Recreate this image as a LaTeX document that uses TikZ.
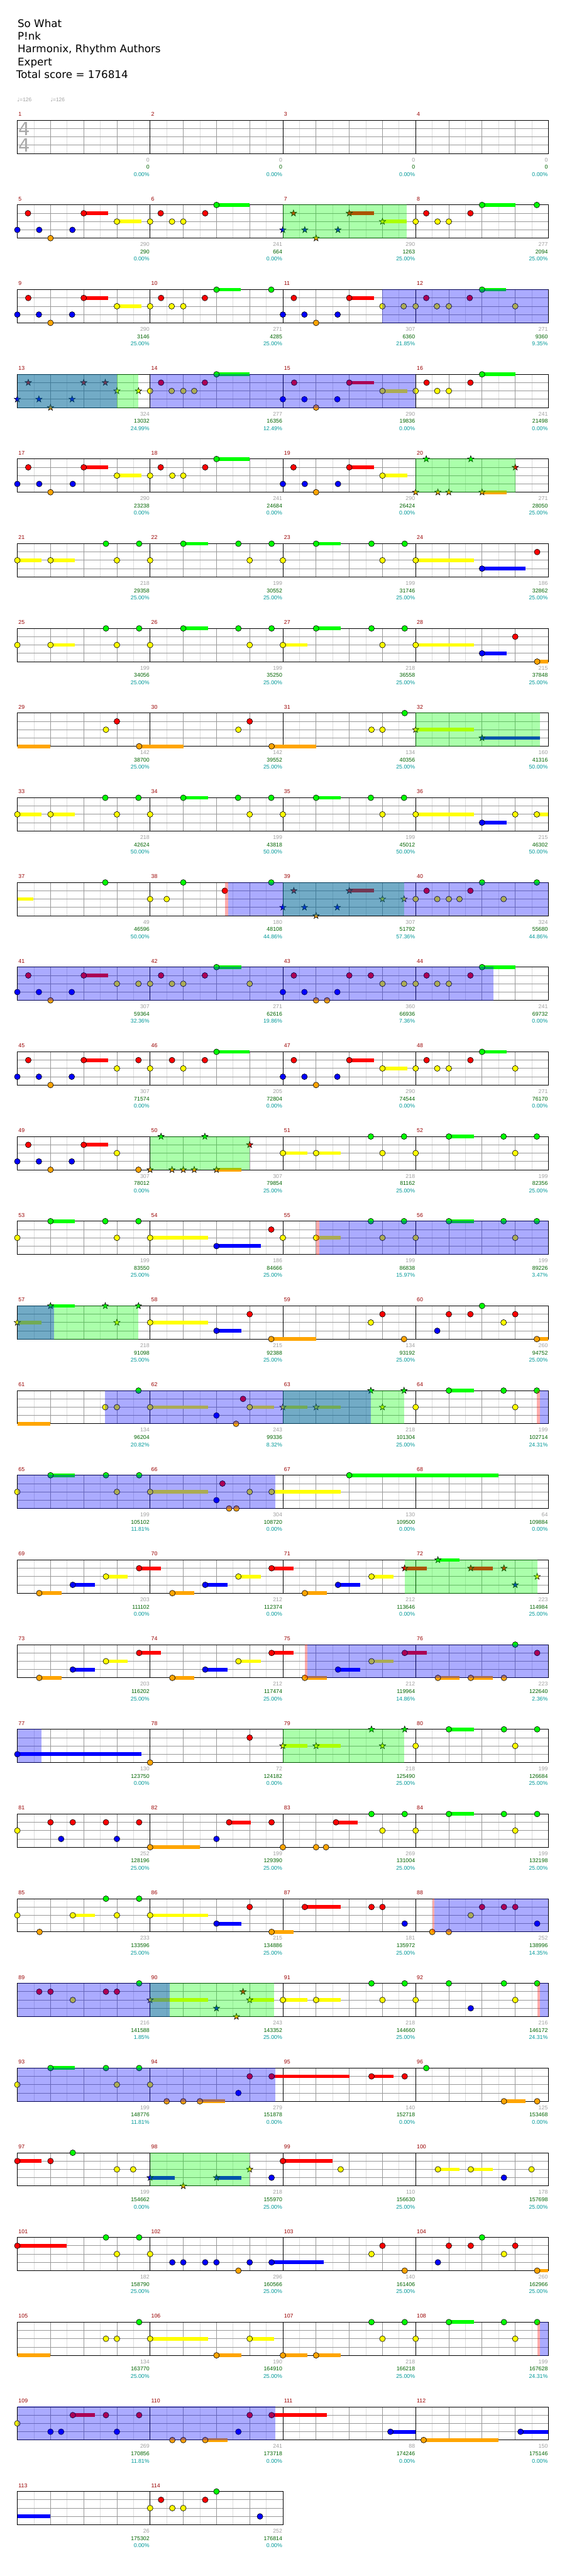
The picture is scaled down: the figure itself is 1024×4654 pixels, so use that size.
\documentclass[tikz,border=0pt]{standalone}
\usepackage{fontspec}
\setmainfont{Liberation Sans}
\newfontfamily\dejavu{DejaVu Sans}
\definecolor{ln0}{RGB}{0,255,0}\definecolor{ln1}{RGB}{255,0,0}\definecolor{ln2}{RGB}{255,255,0}\definecolor{ln3}{RGB}{0,0,255}\definecolor{ln4}{RGB}{255,165,0}
\definecolor{numred}{RGB}{153,0,0}\definecolor{ptgray}{RGB}{160,160,160}\definecolor{totgreen}{RGB}{0,100,0}\definecolor{pctcyan}{RGB}{0,153,153}
\definecolor{halfln}{RGB}{221,221,221}\definecolor{beatln}{RGB}{153,153,153}\definecolor{sigray}{RGB}{170,170,170}
\tikzset{half/.style={halfln,line width=1pt},beat/.style={beatln,line width=1pt},bar/.style={black,line width=1pt},gem/.style={draw=black,line width=.7pt},
mnum/.style={anchor=west,inner sep=0pt,text=numred,font=\fontsize{10}{12}\selectfont},pts/.style={anchor=east,inner sep=0pt,text=ptgray,font=\fontsize{10}{12}\selectfont},
tot/.style={pts,text=totgreen},pct/.style={pts,text=pctcyan},head/.style={anchor=base west,inner sep=0pt,font=\dejavu\fontsize{19}{23}\selectfont},
tempo/.style={anchor=base west,inner sep=0pt,text=ptgray,font=\fontsize{9.5}{11}\selectfont},sig/.style={inner sep=0pt,text=sigray,font=\dejavu\fontsize{33}{33}\selectfont},
rowsh/.style={shift={(31.3,{64.3+153*#1})}}}
\newcommand\gem[2]{\draw[gem,fill=ln#2] ({60*#1},{15*#2}) circle[radius=5.2pt];}
\newcommand\hold[3]{\fill[ln#3] ({60*#1},{15*#3-3.3}) rectangle ({60*#2},{15*#3+3.3});}
\newcommand\gemh[3]{\hold{#1}{#2}{#3}\gem{#1}{#3}}
\newcommand\spgem[2]{\draw[gem,fill=ln#2] ({60*#1},{15*#2}) +(-90:6) -- +(-54:2.4) -- +(-18:6) -- +(18:2.4) -- +(54:6) -- +(90:2.4) -- +(126:6) -- +(162:2.4) -- +(198:6) -- +(234:2.4) -- cycle;}
\newcommand\spgemh[3]{\hold{#1}{#2}{#3}\spgem{#1}{#3}}
\newcommand\odrive[2]{\fill[blue,fill opacity=.33] ({60*#1},-.6) rectangle ({60*#2},60.6);}
\newcommand\sphrase[2]{\fill[ln0,fill opacity=.33] ({60*#1},-.6) rectangle ({60*#2},60.6);}
\newcommand\actv[2]{\fill[red,fill opacity=.33] ({60*#1},-.6) rectangle ({60*#2},60.6);}
\newcommand\staff[1]{\foreach \i in {1,...,#1}{\draw[half] ({60*\i-30},0) -- ++(0,60);}\foreach \j in {15,30,45}{\draw[beat] (0,\j) -- ({60*#1},\j);}
\foreach \i in {1,...,#1}{\draw[beat] ({60*\i},0) -- ++(0,60);}\foreach \i in {0,4,...,#1}{\draw[bar] ({60*\i},0) -- ++(0,60);}\draw[bar] (0,0) rectangle ({60*#1},60);}
\newcommand\mlab[5]{\node[mnum] (num#2) at ({240*#1+2},-11) {#2};\node[pts] (pts#2) at ({240*#1+239},71.4) {#3};\node[tot] (tot#2) at ({240*#1+239},84.7) {#4};\node[pct] (pct#2) at ({240*#1+239},97.7) {#5\%};}
\begin{document}
\begin{tikzpicture}[x=1pt,y=-1pt]
\useasboundingbox[fill=white] (0,0) rectangle (1024,4654);
\node[head] (title) at (31.7,49.3) {So What};\node[head] (artist) at (31.7,72.3) {P!nk};\node[head] (charter) at (31.7,95.3) {Harmonix, Rhythm Authors};
\node[head] (diff) at (31.7,118.3) {Expert};\node[head] (total) at (29.3,141.3) {Total score = 176814};
\node[tempo] (bpma) at (31,184) {{\dejavu ♩}=126};\node[tempo] (bpmb) at (91,184) {{\dejavu ♩}=126};
\begin{scope}[rowsh=1]\staff{16}
\mlab{0}{1}{0}{0}{0.00}\mlab{1}{2}{0}{0}{0.00}\mlab{2}{3}{0}{0}{0.00}\mlab{3}{4}{0}{0}{0.00}
\node[sig] (sigtop) at (12.4,15.7) {4};\node[sig] (sigbot) at (12.4,44.7) {4};
\end{scope}
\begin{scope}[rowsh=2]\staff{16}
\mlab{0}{5}{290}{290}{0.00}\mlab{1}{6}{241}{664}{0.00}\mlab{2}{7}{290}{1263}{25.00}\mlab{3}{8}{277}{2094}{25.00}
\gem{0}{3}\gem{0.32}{1}\gem{0.66}{3}\gem{1}{4}\gem{1.66}{3}\gemh{2}{2.74}{1}\gemh{3}{3.74}{2}\gem{4}{2}\gem{4.32}{1}\gem{4.66}{2}\gem{5}{2}\gem{5.66}{1}\gemh{6}{7}{0}
\spgem{8}{3}\spgem{8.32}{1}\spgem{8.66}{3}\spgem{9}{4}\spgem{9.66}{3}\spgemh{10}{10.74}{1}\spgemh{11}{11.73}{2}
\gem{12}{2}\gem{12.32}{1}\gem{12.66}{2}\gem{13}{2}\gem{13.65}{1}\gemh{14}{15}{0}\gem{15.65}{0}
\sphrase{8}{11.73}
\end{scope}
\begin{scope}[rowsh=3]\staff{16}
\mlab{0}{9}{290}{3146}{25.00}\mlab{1}{10}{271}{4285}{25.00}\mlab{2}{11}{307}{6360}{21.85}\mlab{3}{12}{271}{9360}{9.35}
\gem{0}{3}\gem{0.33}{1}\gem{0.65}{3}\gem{1}{4}\gem{1.65}{3}\gemh{2}{2.74}{1}\gemh{3}{3.74}{2}\gem{4}{2}\gem{4.33}{1}\gem{4.65}{2}\gem{5}{2}\gem{5.65}{1}\gemh{6}{6.74}{0}\gem{7.65}{0}\gem{8}{3}
\gem{8.33}{1}\gem{8.65}{3}\gem{9}{4}\gem{9.65}{3}\gemh{10}{10.74}{1}\gem{11}{2}\gem{11.64}{2}\gem{12}{2}\gem{12.32}{1}\gem{12.64}{2}\gem{13}{2}\gem{13.63}{1}\gemh{14}{14.73}{0}\gem{15}{2}
\odrive{11}{16}
\end{scope}
\begin{scope}[rowsh=4]\staff{16}
\mlab{0}{13}{324}{13032}{24.99}\mlab{1}{14}{277}{16356}{12.49}\mlab{2}{15}{290}{19836}{0.00}\mlab{3}{16}{241}{21498}{0.00}
\spgem{0}{3}\spgem{0.33}{1}\spgem{0.65}{3}\spgem{1}{4}\spgem{1.65}{3}\spgem{2}{1}\spgem{2.65}{1}\spgem{3}{2}\spgem{3.65}{2}
\gem{4}{2}\gem{4.33}{1}\gem{4.65}{2}\gem{5}{2}\gem{5.33}{2}\gem{5.65}{1}\gemh{6}{7}{0}\gem{8}{3}\gem{8.34}{1}\gem{8.65}{3}\gem{9}{4}\gem{9.64}{3}\gemh{10}{10.74}{1}\gemh{11}{11.74}{2}
\gem{12}{2}\gem{12.33}{1}\gem{12.65}{2}\gem{13}{2}\gem{13.65}{1}\gemh{14}{15}{0}
\sphrase{0}{3.65}\odrive{0}{3}\odrive{4}{12}
\end{scope}
\begin{scope}[rowsh=5]\staff{16}
\mlab{0}{17}{290}{23238}{0.00}\mlab{1}{18}{241}{24684}{0.00}\mlab{2}{19}{290}{26424}{0.00}\mlab{3}{20}{271}{28050}{25.00}
\gem{0}{3}\gem{0.33}{1}\gem{0.66}{3}\gem{1}{4}\gem{1.67}{3}\gemh{2}{2.74}{1}\gemh{3}{3.73}{2}\gem{4}{2}\gem{4.32}{1}\gem{4.67}{2}\gem{5}{2}\gem{5.66}{1}\gemh{6}{7}{0}
\gem{8}{3}\gem{8.32}{1}\gem{8.66}{3}\gem{9}{4}\gem{9.66}{3}\gemh{10}{10.74}{1}\gemh{11}{11.74}{2}
\spgem{12}{4}\spgem{12.32}{0}\spgem{12.67}{4}\spgem{13}{4}\spgem{13.66}{0}\spgemh{14}{14.75}{4}\spgem{15}{1}
\sphrase{12}{15}
\end{scope}
\begin{scope}[rowsh=6]\staff{16}
\mlab{0}{21}{218}{29358}{25.00}\mlab{1}{22}{199}{30552}{25.00}\mlab{2}{23}{199}{31746}{25.00}\mlab{3}{24}{186}{32862}{25.00}
\gemh{0}{0.73}{2}\gemh{1}{1.73}{2}\gem{2.67}{0}\gem{3}{2}\gem{3.67}{0}\gem{4}{2}\gemh{5}{5.75}{0}\gem{6.66}{0}\gem{7}{2}\gem{7.66}{0}\gem{8}{2}\gemh{9}{9.74}{0}\gem{10.67}{0}\gem{11}{2}\gem{11.67}{0}
\gemh{12}{13.75}{2}\gemh{14}{15.31}{3}\gem{15.66}{1}
\end{scope}
\begin{scope}[rowsh=7]\staff{16}
\mlab{0}{25}{199}{34056}{25.00}\mlab{1}{26}{199}{35250}{25.00}\mlab{2}{27}{218}{36558}{25.00}\mlab{3}{28}{215}{37848}{25.00}
\gem{0}{2}\gemh{1}{1.73}{2}\gem{2.67}{0}\gem{3}{2}\gem{3.67}{0}\gem{4}{2}\gemh{5}{5.75}{0}\gem{6.66}{0}\gem{7}{2}\gem{7.66}{0}\gemh{8}{8.74}{2}\gemh{9}{9.74}{0}\gem{10.67}{0}\gem{11}{2}\gem{11.67}{0}
\gemh{12}{13.75}{2}\gemh{14}{14.75}{3}\gem{15}{1}\gemh{15.66}{16}{4}
\end{scope}
\begin{scope}[rowsh=8]\staff{16}
\mlab{0}{29}{142}{38700}{25.00}\mlab{1}{30}{142}{39552}{25.00}\mlab{2}{31}{134}{40356}{25.00}\mlab{3}{32}{160}{41316}{50.00}
\hold{0}{1}{4}\gem{2.67}{2}\gem{3}{1}\gemh{3.67}{5}{4}\gem{6.66}{2}\gem{7}{1}\gemh{7.66}{9}{4}\gem{10.67}{2}\gem{11}{2}\gem{11.67}{0}\spgemh{12}{13.75}{2}\spgemh{14}{15.74}{3}
\sphrase{12}{15.74}
\end{scope}
\begin{scope}[rowsh=9]\staff{16}
\mlab{0}{33}{218}{42624}{50.00}\mlab{1}{34}{199}{43818}{50.00}\mlab{2}{35}{199}{45012}{50.00}\mlab{3}{36}{215}{46302}{50.00}
\gemh{0}{0.73}{2}\gemh{1}{1.73}{2}\gem{2.65}{0}\gem{3}{2}\gem{3.65}{0}\gem{4}{2}\gemh{5}{5.75}{0}\gem{6.65}{0}\gem{7}{2}\gem{7.65}{0}\gem{8}{2}\gemh{9}{9.74}{0}\gem{10.65}{0}\gem{11}{2}\gem{11.65}{0}
\gemh{12}{13.75}{2}\gemh{14}{14.75}{3}\gem{15}{2}\gemh{15.65}{16}{2}
\end{scope}
\begin{scope}[rowsh=10]\staff{16}
\mlab{0}{37}{49}{46596}{50.00}\mlab{1}{38}{180}{48108}{44.86}\mlab{2}{39}{307}{51792}{57.36}\mlab{3}{40}{324}{55680}{44.86}
\hold{0}{0.49}{2}\gem{2.65}{0}\gem{4}{2}\gem{4.5}{2}\gem{5}{0}\gem{6.25}{1}\gem{7.65}{0}
\spgem{8}{3}\spgem{8.33}{1}\spgem{8.65}{3}\spgem{9}{4}\spgem{9.64}{3}\spgemh{10}{10.74}{1}\spgem{11}{2}\spgem{11.65}{2}
\gem{12}{2}\gem{12.33}{1}\gem{12.65}{2}\gem{13}{2}\gem{13.32}{2}\gem{13.65}{1}\gem{14}{0}\gem{14.65}{2}\gem{15.65}{0}
\actv{6.25}{6.35}\sphrase{8}{11.65}\odrive{6.35}{16}
\end{scope}
\begin{scope}[rowsh=11]\staff{16}
\mlab{0}{41}{307}{59364}{32.36}\mlab{1}{42}{271}{62616}{19.86}\mlab{2}{43}{360}{66936}{7.36}\mlab{3}{44}{241}{69732}{0.00}
\gem{0}{3}\gem{0.33}{1}\gem{0.65}{3}\gem{1}{4}\gem{1.64}{3}\gemh{2}{2.74}{1}\gem{3}{2}\gem{3.65}{2}\gem{4}{2}\gem{4.33}{1}\gem{4.66}{2}\gem{5}{2}\gem{5.65}{1}\gemh{6}{6.75}{0}\gem{7}{2}
\gem{8}{3}\gem{8.33}{1}\gem{8.65}{3}\gem{9}{4}\gem{9.33}{4}\gem{9.64}{3}\gem{10}{1}\gem{10.65}{1}\gem{11}{2}\gem{11.65}{2}\gem{12}{2}\gem{12.33}{1}\gem{12.65}{2}\gem{13}{2}\gem{13.65}{1}\gemh{14}{15}{0}
\odrive{0}{14.35}
\end{scope}
\begin{scope}[rowsh=12]\staff{16}
\mlab{0}{45}{307}{71574}{0.00}\mlab{1}{46}{205}{72804}{0.00}\mlab{2}{47}{290}{74544}{0.00}\mlab{3}{48}{271}{76170}{0.00}
\gem{0}{3}\gem{0.33}{1}\gem{0.65}{3}\gem{1}{4}\gem{1.64}{3}\gemh{2}{2.74}{1}\gem{3}{2}\gem{3.65}{1}\gem{4}{2}\gem{4.66}{1}\gem{5}{2}\gem{5.65}{1}\gemh{6}{7}{0}
\gem{8}{3}\gem{8.33}{1}\gem{8.65}{3}\gem{9}{4}\gem{9.64}{3}\gemh{10}{10.74}{1}\gemh{11}{11.74}{2}\gem{12}{2}\gem{12.33}{1}\gem{12.65}{2}\gem{13}{2}\gem{13.65}{1}\gemh{14}{14.75}{0}\gem{15}{2}
\end{scope}
\begin{scope}[rowsh=13]\staff{16}
\mlab{0}{49}{307}{78012}{0.00}\mlab{1}{50}{307}{79854}{25.00}\mlab{2}{51}{218}{81162}{25.00}\mlab{3}{52}{199}{82356}{25.00}
\gem{0}{3}\gem{0.33}{1}\gem{0.65}{3}\gem{1}{4}\gem{1.64}{3}\gemh{2}{2.74}{1}\gem{3}{2}\gem{3.65}{4}
\spgem{4}{4}\spgem{4.33}{0}\spgem{4.66}{4}\spgem{5}{4}\spgem{5.33}{4}\spgem{5.65}{0}\spgemh{6}{6.75}{4}\spgem{7}{1}
\gemh{8}{8.74}{2}\gemh{9}{9.74}{2}\gem{10.65}{0}\gem{11}{2}\gem{11.65}{0}\gem{12}{2}\gemh{13}{13.75}{0}\gem{14.65}{0}\gem{15}{2}\gem{15.65}{0}
\sphrase{4}{7}
\end{scope}
\begin{scope}[rowsh=14]\staff{16}
\mlab{0}{53}{199}{83550}{25.00}\mlab{1}{54}{186}{84666}{25.00}\mlab{2}{55}{199}{86838}{15.97}\mlab{3}{56}{199}{89226}{3.47}
\gem{0}{2}\gemh{1}{1.73}{0}\gem{2.65}{0}\gem{3}{2}\gem{3.65}{0}\gemh{4}{5.75}{2}\gemh{6}{7.33}{3}\gem{7.65}{1}\gem{8}{2}\gemh{9}{9.74}{2}\gem{10.65}{0}\gem{11}{2}\gem{11.65}{0}
\gem{12}{2}\gemh{13}{13.75}{0}\gem{14.65}{0}\gem{15}{2}\gem{15.65}{0}
\actv{9}{9.09}\odrive{9.09}{16}
\end{scope}
\begin{scope}[rowsh=15]\staff{16}
\mlab{0}{57}{218}{91098}{25.00}\mlab{1}{58}{215}{92388}{25.00}\mlab{2}{59}{134}{93192}{25.00}\mlab{3}{60}{260}{94752}{25.00}
\spgemh{0}{0.73}{2}\spgemh{1}{1.73}{0}\spgem{2.65}{0}\spgem{3}{2}\spgem{3.65}{0}
\gemh{4}{5.75}{2}\gemh{6}{6.75}{3}\gem{7}{1}\gemh{7.65}{9}{4}\gem{10.65}{2}\gem{11}{1}\gem{11.65}{4}\gem{12.65}{3}\gem{13}{1}\gem{13.65}{1}\gem{14}{0}\gem{14.65}{2}\gem{15}{1}\gemh{15.65}{16}{4}
\sphrase{0}{3.65}\odrive{0}{1.11}
\end{scope}
\begin{scope}[rowsh=16]\staff{16}
\mlab{0}{61}{134}{96204}{20.82}\mlab{1}{62}{243}{99336}{8.32}\mlab{2}{63}{218}{101304}{25.00}\mlab{3}{64}{199}{102714}{24.31}
\hold{0}{1}{4}\gem{2.65}{2}\gem{3}{2}\gem{3.65}{0}\gemh{4}{5.75}{2}\gem{6}{3}\gem{6.59}{4}\gem{6.8}{1}\gemh{7}{7.74}{2}
\spgemh{8}{8.74}{2}\spgemh{9}{9.74}{2}\spgem{10.65}{0}\spgem{11}{2}\spgem{11.65}{0}
\gem{12}{2}\gemh{13}{13.75}{0}\gem{14.65}{0}\gem{15}{2}\gem{15.65}{0}
\sphrase{8}{11.65}\odrive{2.65}{10.65}\actv{15.65}{15.74}\odrive{15.74}{16}
\end{scope}
\begin{scope}[rowsh=17]\staff{16}
\mlab{0}{65}{199}{105102}{11.81}\mlab{1}{66}{304}{108720}{0.00}\mlab{2}{67}{130}{109500}{0.00}\mlab{3}{68}{64}{109884}{0.00}
\gem{0}{2}\gemh{1}{1.73}{0}\gem{2.67}{0}\gem{3}{2}\gem{3.67}{0}\gemh{4}{5.75}{2}\gem{6}{3}\gem{6.18}{1}\gem{6.38}{4}\gem{6.6}{4}\gem{7}{2}\gemh{7.66}{9.74}{2}\gemh{10}{14.5}{0}
\odrive{0}{7.78}
\end{scope}
\begin{scope}[rowsh=18]\staff{16}
\mlab{0}{69}{203}{111102}{0.00}\mlab{1}{70}{212}{112374}{0.00}\mlab{2}{71}{212}{113646}{0.00}\mlab{3}{72}{223}{114984}{25.00}
\gemh{0.66}{1.33}{4}\gemh{1.67}{2.33}{3}\gemh{2.67}{3.33}{2}\gemh{3.67}{4.33}{1}\gemh{4.67}{5.33}{4}\gemh{5.66}{6.33}{3}\gemh{6.66}{7.33}{2}\gemh{7.66}{8.33}{1}\gemh{8.66}{9.33}{4}\gemh{9.66}{10.33}{3}\gemh{10.67}{11.33}{2}
\spgemh{11.67}{12.33}{1}\spgemh{12.67}{13.33}{0}\spgemh{13.66}{14.33}{1}\spgem{14.66}{1}\spgem{15}{3}\spgem{15.66}{2}
\sphrase{11.67}{15.66}
\end{scope}
\begin{scope}[rowsh=19]\staff{16}
\mlab{0}{73}{203}{116202}{25.00}\mlab{1}{74}{212}{117474}{25.00}\mlab{2}{75}{212}{119964}{14.86}\mlab{3}{76}{223}{122640}{2.36}
\gemh{0.66}{1.33}{4}\gemh{1.67}{2.33}{3}\gemh{2.67}{3.33}{2}\gemh{3.67}{4.33}{1}\gemh{4.67}{5.33}{4}\gemh{5.66}{6.33}{3}\gemh{6.66}{7.33}{2}\gemh{7.66}{8.33}{1}\gemh{8.66}{9.33}{4}\gemh{9.66}{10.33}{3}\gemh{10.67}{11.33}{2}
\gemh{11.67}{12.33}{1}\gemh{12.67}{13.33}{4}\gemh{13.66}{14.33}{4}\gem{14.66}{4}\gem{15}{0}\gem{15.66}{1}
\actv{8.66}{8.73}\odrive{8.73}{16}
\end{scope}
\begin{scope}[rowsh=20]\staff{16}
\mlab{0}{77}{130}{123750}{0.00}\mlab{1}{78}{72}{124182}{0.00}\mlab{2}{79}{218}{125490}{25.00}\mlab{3}{80}{199}{126684}{25.00}
\gemh{0}{3.73}{3}\gem{4}{4}\gem{7}{1}\spgemh{8}{8.74}{2}\spgemh{9}{9.74}{2}\spgem{10.67}{0}\spgem{11}{2}\spgem{11.67}{0}\gem{12}{2}\gemh{13}{13.75}{0}\gem{14.66}{0}\gem{15}{2}\gem{15.66}{0}
\odrive{0}{0.73}\sphrase{8}{11.65}
\end{scope}
\begin{scope}[rowsh=21]\staff{16}
\mlab{0}{81}{252}{128196}{25.00}\mlab{1}{82}{199}{129390}{25.00}\mlab{2}{83}{269}{131004}{25.00}\mlab{3}{84}{199}{132198}{25.00}
\gem{0}{2}\gem{1}{1}\gem{1.32}{3}\gem{1.67}{1}\gem{2.67}{1}\gem{3}{3}\gem{3.67}{1}\gemh{4}{5.5}{4}\gem{6}{3}\gemh{6.38}{7.04}{1}\gem{7.66}{1}\gem{8}{4}\gem{9}{4}\gem{9.3}{4}\gemh{9.6}{10.26}{1}
\gem{10.67}{0}\gem{11}{2}\gem{11.67}{0}\gem{12}{2}\gemh{13}{13.75}{0}\gem{14.66}{0}\gem{15}{2}\gem{15.66}{0}
\end{scope}
\begin{scope}[rowsh=22]\staff{16}
\mlab{0}{85}{233}{133596}{25.00}\mlab{1}{86}{215}{134886}{25.00}\mlab{2}{87}{181}{135972}{25.00}\mlab{3}{88}{252}{138996}{14.35}
\gem{0}{2}\gem{0.67}{4}\gemh{1.67}{2.33}{2}\gem{2.67}{0}\gem{3}{2}\gem{3.67}{0}\gemh{4}{5.75}{2}\gemh{6}{6.75}{3}\gem{7}{1}\gemh{7.66}{8.33}{4}\gemh{8.66}{9.74}{1}\gem{10.67}{1}\gem{11}{1}\gem{11.67}{3}
\gem{12.5}{4}\gem{13}{4}\gem{13.66}{2}\gem{14}{1}\gem{14.66}{1}\gem{15}{1}\gem{15.66}{3}
\actv{12.5}{12.57}\odrive{12.57}{16}
\end{scope}
\begin{scope}[rowsh=23]\staff{16}
\mlab{0}{89}{216}{141588}{1.85}\mlab{1}{90}{243}{143352}{25.00}\mlab{2}{91}{218}{144660}{25.00}\mlab{3}{92}{216}{146172}{24.31}
\gem{0.66}{1}\gem{1}{1}\gem{1.67}{2}\gem{2.67}{1}\gem{3}{1}\gem{3.67}{0}\spgemh{4}{5.75}{2}\spgem{6}{3}\spgem{6.6}{4}\spgem{6.8}{1}\spgemh{7}{7.74}{2}
\gemh{8}{8.74}{2}\gemh{9}{9.74}{2}\gem{10.67}{0}\gem{11}{2}\gem{11.67}{0}\gem{12}{2}\gem{13}{0}\gem{13.66}{3}\gem{14.66}{0}\gem{15}{2}\gem{15.66}{0}
\sphrase{4}{7.74}\odrive{0}{4.59}\actv{15.66}{15.75}\odrive{15.75}{16}
\end{scope}
\begin{scope}[rowsh=24]\staff{16}
\mlab{0}{93}{199}{148776}{11.81}\mlab{1}{94}{279}{151878}{0.00}\mlab{2}{95}{140}{152718}{0.00}\mlab{3}{96}{125}{153468}{0.00}
\gem{0}{2}\gemh{1}{1.73}{0}\gem{2.67}{0}\gem{3}{2}\gem{3.67}{0}\gem{4}{2}\gem{4.5}{4}\gem{5}{4}\gemh{5.5}{6.25}{4}\gem{6.66}{3}\gem{7}{1}\gemh{7.66}{10}{1}\gemh{10.67}{11.33}{1}\gem{11.67}{1}
\gem{12.32}{0}\gemh{14.66}{15.31}{4}\gem{15.66}{4}
\odrive{0}{7.78}
\end{scope}
\begin{scope}[rowsh=25]\staff{16}
\mlab{0}{97}{199}{154662}{0.00}\mlab{1}{98}{218}{155970}{25.00}\mlab{2}{99}{110}{156630}{25.00}\mlab{3}{100}{178}{157698}{25.00}
\gemh{0}{0.73}{1}\gem{1}{1}\gem{1.67}{0}\gem{3}{2}\gem{3.49}{2}\spgemh{4}{4.75}{3}\spgem{5}{4}\spgemh{6}{6.75}{3}\spgem{7}{2}\gem{7.66}{3}\gemh{8}{9.49}{1}\gem{9.74}{2}
\gemh{12.67}{13.32}{2}\gemh{13.66}{14.32}{2}\gem{14.66}{3}\gem{15.49}{2}
\sphrase{4}{7}
\end{scope}
\begin{scope}[rowsh=26]\staff{16}
\mlab{0}{101}{182}{158790}{25.00}\mlab{1}{102}{296}{160566}{25.00}\mlab{2}{103}{140}{161406}{25.00}\mlab{3}{104}{260}{162966}{25.00}
\gemh{0}{1.49}{1}\gem{2.67}{0}\gem{3}{2}\gem{3.67}{0}\gem{4}{2}\gem{4.67}{3}\gem{5}{3}\gem{5.66}{3}\gem{6}{3}\gem{6.66}{4}\gem{7}{3}\gemh{7.66}{9.24}{3}\gem{10.67}{2}\gem{11}{1}\gem{11.67}{4}
\gem{12.67}{3}\gem{13}{1}\gem{13.66}{1}\gem{14}{0}\gem{14.66}{2}\gem{15}{1}\gemh{15.66}{16}{4}
\end{scope}
\begin{scope}[rowsh=27]\staff{16}
\mlab{0}{105}{134}{163770}{25.00}\mlab{1}{106}{190}{164910}{25.00}\mlab{2}{107}{218}{166218}{25.00}\mlab{3}{108}{199}{167628}{24.31}
\hold{0}{1}{4}\gem{2.67}{2}\gem{3}{2}\gem{3.67}{0}\gemh{4}{5.75}{2}\gemh{6}{6.75}{4}\gemh{7}{7.74}{2}\gemh{8}{8.74}{4}\gemh{9}{9.74}{4}\gem{10.67}{0}\gem{11}{2}\gem{11.67}{0}
\gem{12}{2}\gemh{13}{13.75}{0}\gem{14.66}{0}\gem{15}{2}\gem{15.66}{0}
\actv{15.66}{15.75}\odrive{15.75}{16}
\end{scope}
\begin{scope}[rowsh=28]\staff{16}
\mlab{0}{109}{269}{170856}{11.81}\mlab{1}{110}{241}{173718}{0.00}\mlab{2}{111}{88}{174246}{0.00}\mlab{3}{112}{150}{175146}{0.00}
\gem{0}{2}\gem{1}{3}\gem{1.32}{3}\gemh{1.67}{2.33}{1}\gem{2.67}{1}\gem{3}{3}\gem{3.67}{1}\gem{4.67}{4}\gem{5}{4}\gemh{5.66}{6.33}{4}\gem{6.66}{3}\gem{7}{1}\gemh{7.66}{9.33}{1}
\gemh{11.24}{12}{3}\gemh{12.24}{14.5}{4}\gemh{15.16}{16}{3}
\odrive{0}{7.78}
\end{scope}
\begin{scope}[rowsh=29]\staff{8}
\mlab{0}{113}{26}{175302}{0.00}\mlab{1}{114}{252}{176814}{0.00}
\hold{0}{1}{3}\gem{4}{2}\gem{4.33}{1}\gem{4.67}{2}\gem{5}{2}\gem{5.66}{1}\gem{6}{0}\gem{7.31}{3}
\end{scope}
\end{tikzpicture}
\end{document}
